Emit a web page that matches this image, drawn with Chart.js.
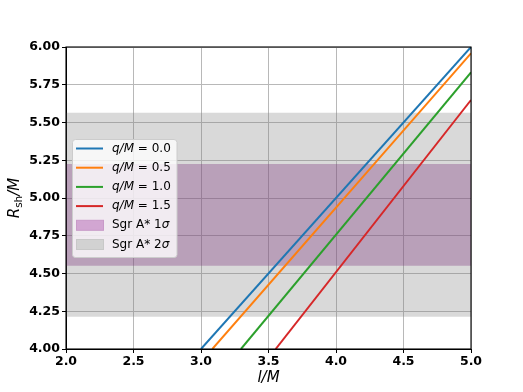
<!DOCTYPE html>
<html><head><meta charset="utf-8">
<script src="https://cdn.jsdelivr.net/npm/chart.js@4/dist/chart.umd.min.js"></script>
<style>html,body{margin:0;padding:0;background:#fff}canvas{display:block}</style>
</head><body>
<canvas id="c" width="523" height="392"></canvas>
<script>
// Series (l/M, R_sh/M) endpoints
const seriesLabels = ["0.0", "0.5", "1.0", "1.5"];
const q00 = [{x: 3.000, y: 4.0}, {x: 5.0, y: 6.000}];
const q05 = [{x: 3.084, y: 4.0}, {x: 5.0, y: 5.958}];
const q10 = [{x: 3.296, y: 4.0}, {x: 5.0, y: 5.832}];
const q15 = [{x: 3.553, y: 4.0}, {x: 5.0, y: 5.649}];
const seriesColors = ["#1f77b4", "#ff7f0e", "#2ca02c", "#d62728"];
// Sgr A* bands [lower, upper]
const band1sigma = [4.552, 5.225];
const band2sigma = [4.214, 5.565];
const xRange = [2.0, 5.0];
const yRange = [4.0, 6.0];

const band1Color = "rgba(126,54,126,0.35)";
const band2Color = "rgba(128,128,128,0.3)";
const seriesData = [q00, q05, q10, q15];
const datasets = seriesData.map((d, i) => ({
  label: "q/M = " + seriesLabels[i], data: d, borderColor: seriesColors[i],
  borderWidth: 2, pointRadius: 0, fill: false, order: 0, tension: 0
}));
datasets.push({
  label: "Sgr A* 1σ", data: [{x: xRange[0], y: band1sigma[1]}, {x: xRange[1], y: band1sigma[1]}],
  borderWidth: 0, pointRadius: 0, backgroundColor: band1Color,
  fill: {target: {value: band1sigma[0]}}, order: 1
});
datasets.push({
  label: "Sgr A* 2σ", data: [{x: xRange[0], y: band2sigma[1]}, {x: xRange[1], y: band2sigma[1]}],
  borderWidth: 0, pointRadius: 0, backgroundColor: band2Color,
  fill: {target: {value: band2sigma[0]}}, order: 2
});

const decor = {
  id: "decor",
  afterDraw(chart) {
    const ctx = chart.ctx, a = chart.chartArea;
    ctx.save();
    ctx.strokeStyle = "#000"; ctx.lineWidth = 1.1;
    ctx.strokeRect(a.left, a.top, a.right - a.left, a.bottom - a.top);
    ctx.fillStyle = "#000";
    ctx.textBaseline = "middle";
    ctx.font = "italic 15px 'DejaVu Sans'";
    ctx.textAlign = "center";
    ctx.fillText("l/M", (a.left + a.right) / 2, 378);
    ctx.save();
    ctx.translate(15, (a.top + a.bottom) / 2);
    ctx.rotate(-Math.PI / 2);
    ctx.textAlign = "left";
    const fBig = "italic 15px 'DejaVu Sans'", fSub = "10.5px 'DejaVu Sans'";
    ctx.font = fBig; const wR = ctx.measureText("R").width, wM = ctx.measureText("/M").width;
    ctx.font = fSub; const wS = ctx.measureText("sh").width;
    let x0 = -(wR + wS + wM) / 2;
    ctx.font = fBig; ctx.fillText("R", x0, 0);
    ctx.font = fSub; ctx.fillText("sh", x0 + wR, 4);
    ctx.font = fBig; ctx.fillText("/M", x0 + wR + wS, 0);
    ctx.restore();
    // legend
    const lx = 72.5, ly = 139.5, lw = 104.5, lh = 118;
    ctx.beginPath();
    ctx.roundRect(lx, ly, lw, lh, 3);
    ctx.fillStyle = "rgba(255,255,255,0.8)"; ctx.fill();
    ctx.strokeStyle = "#cccccc"; ctx.lineWidth = 1; ctx.stroke();
    const rowY = i => 148.5 + i * 19.2;
    for (let i = 0; i < 4; i++) {
      const y = rowY(i);
      ctx.strokeStyle = seriesColors[i]; ctx.lineWidth = 2;
      ctx.beginPath(); ctx.moveTo(76, y); ctx.lineTo(103, y); ctx.stroke();
      ctx.fillStyle = "#000"; ctx.textAlign = "left";
      ctx.font = "italic 12px 'DejaVu Sans'";
      ctx.fillText("q/M", 112, y);
      const w = ctx.measureText("q/M").width;
      ctx.font = "12px 'DejaVu Sans'";
      ctx.fillText(" = " + seriesLabels[i], 112 + w, y);
    }
    const patches = [["#d2a6d2", "#c89ac8", "1"], ["#d2d2d2", "#c8c8c8", "2"]];
    patches.forEach((p, j) => {
      const y = rowY(4 + j);
      ctx.fillStyle = p[0];
      ctx.fillRect(76.5, y - 5, 27, 10);
      ctx.strokeStyle = p[1]; ctx.lineWidth = 1;
      ctx.strokeRect(76.5, y - 5, 27, 10);
      ctx.fillStyle = "#000"; ctx.font = "12px 'DejaVu Sans'";
      ctx.fillText("Sgr A* " + p[2], 112, y);
      const w = ctx.measureText("Sgr A* " + p[2]).width;
      ctx.font = "italic 12px 'DejaVu Sans'";
      ctx.fillText("σ", 112 + w, y);
    });
    ctx.restore();
  }
};

new Chart(document.getElementById("c"), {
  type: "line",
  data: {datasets},
  options: {
    responsive: false, animation: false, devicePixelRatio: 1,
    layout: {padding: {top: 47, right: 52, left: 0, bottom: 0}},
    plugins: {legend: {display: false}, tooltip: {enabled: false}},
    scales: {
      x: {
        type: "linear", min: xRange[0], max: xRange[1],
        afterFit: s => { s.height = 43; },
        ticks: {stepSize: 0.5, callback: v => v.toFixed(1), color: "#000", padding: 1,
          font: {family: "'DejaVu Sans'", weight: "bold", size: 12.5}, maxRotation: 0},
        grid: {color: "#b8b8b8", lineWidth: 1, tickLength: 4, tickColor: "#000"},
        border: {color: "#000", width: 1}
      },
      y: {
        type: "linear", min: yRange[0], max: yRange[1],
        afterFit: s => { s.width = 66; },
        ticks: {stepSize: 0.25, callback: v => v.toFixed(2), color: "#000", padding: 2,
          font: {family: "'DejaVu Sans'", weight: "bold", size: 12.5}},
        grid: {color: "#b8b8b8", lineWidth: 1, tickLength: 4, tickColor: "#000"},
        border: {color: "#000", width: 1}
      }
    }
  },
  plugins: [decor]
});
</script>
</body></html>
